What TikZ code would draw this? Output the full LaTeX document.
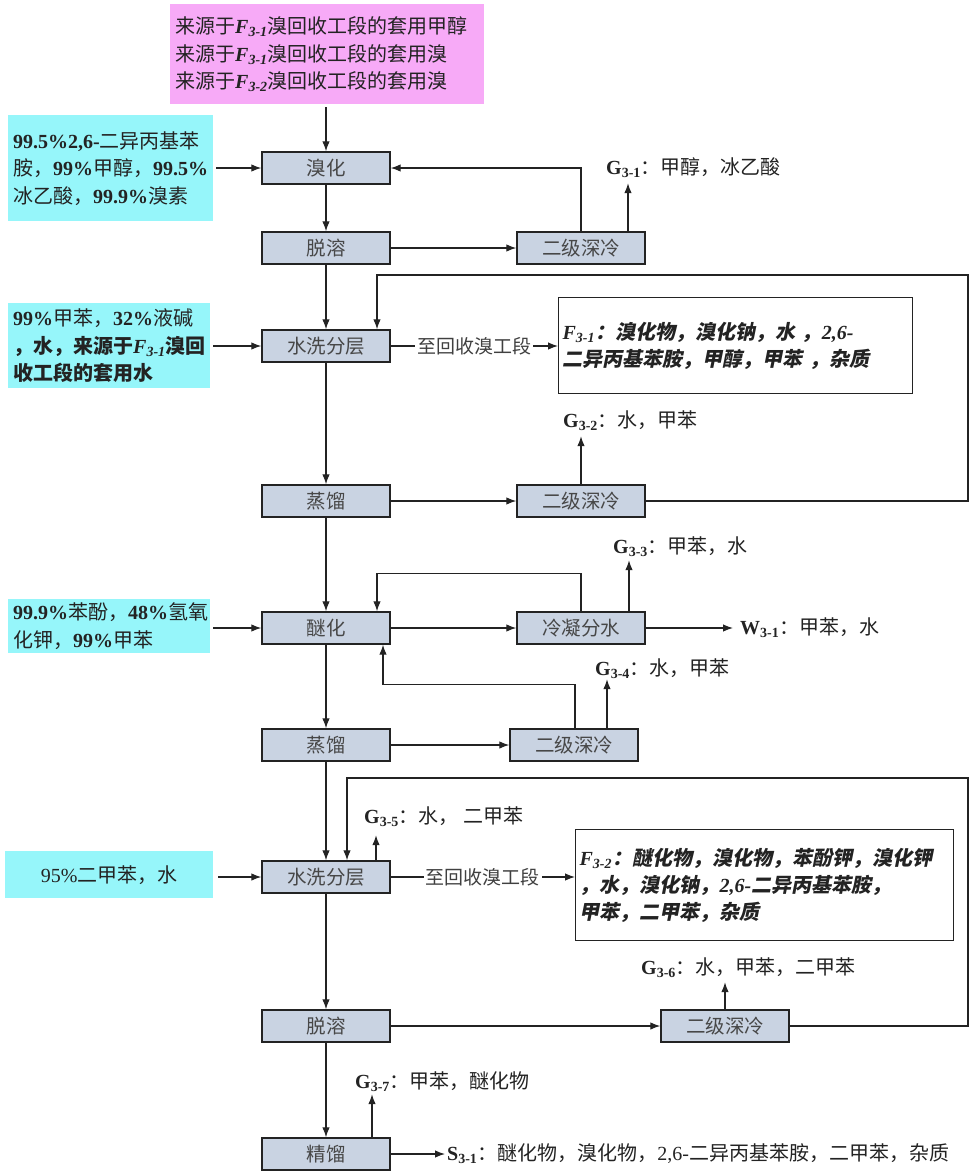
\documentclass[tikz,border=0pt]{standalone}
\usepackage{fontspec}
\setmainfont{Noto Sans CJK SC}
\newfontfamily\latinf{Liberation Serif}
\newfontfamily\cjkit[FakeSlant=0.2]{Noto Sans CJK SC}
\usetikzlibrary{arrows.meta, positioning, calc}
\definecolor{procfill}{RGB}{201,211,226}
\definecolor{feedcyan}{RGB}{150,246,250}
\definecolor{recycpink}{RGB}{247,170,247}
\definecolor{ink}{RGB}{35,35,35}
\newcommand\lat[1]{{\latinf\bfseries #1}}
\newcommand\stream[2]{{\latinf\bfseries #1\textsubscript{#2}}}
\newcommand\fstream[1]{{\latinf\bfseries\itshape F\textsubscript{#1}}}
\tikzset{
  proc/.style={draw=ink, line width=1.4pt, fill=procfill, minimum width=128pt, minimum height=32pt,
    inner sep=0pt, text=black!72, font=\fontsize{19.5}{22}\selectfont},
  feed/.style={fill=#1, anchor=north west, inner xsep=5pt, inner ysep=0pt, align=left, text=ink,
    font=\fontsize{20}{27.5}\selectfont},
  dump/.style={draw=ink, line width=1.2pt, fill=white, anchor=north west, inner xsep=4pt, inner ysep=0pt,
    align=left, text=ink, font=\fontsize{20}{27}\selectfont\cjkit\bfseries},
  lbl/.style={anchor=west, inner sep=0pt, text height=16pt, text depth=4pt, text=ink,
    font=\fontsize{20}{24}\selectfont},
  arr/.style={-{Latex[length=10pt,width=7.5pt]}, line width=1.2pt, draw=ink},
  via/.style={fill=white, inner xsep=2pt, text=black!75, font=\fontsize{19}{22}\selectfont},
}
\begin{document}
\begin{tikzpicture}[x=1pt, y=-1pt]
  \useasboundingbox (0,0) rectangle (971,1173);
  % main column
  \node[proc] (brom) at (326,168) {溴化};
  \node[proc] (desolvA) at (326,248) {脱溶};
  \node[proc] (washA) at (326,346) {水洗分层};
  \node[proc] (distA) at (326,501) {蒸馏};
  \node[proc] (ether) at (326,628) {醚化};
  \node[proc] (distB) at (326,745) {蒸馏};
  \node[proc] (washB) at (326,877) {水洗分层};
  \node[proc] (desolvB) at (326,1026) {脱溶};
  \node[proc] (rectif) at (326,1154) {精馏};
  % side units
  \node[proc] (chillA) at (581,248) {二级深冷};
  \node[proc] (chillB) at (581,501) {二级深冷};
  \node[proc] (cond) at (581,628) {冷凝分水};
  \node[proc] (chillC) at (574,745) {二级深冷};
  \node[proc] (chillD) at (725,1026) {二级深冷};
  % feeds
  \node[feed=recycpink, text width=304pt, minimum height=100pt] (recyc) at (170,4)
    {来源于\fstream{3-1}溴回收工段的套用甲醇\\来源于\fstream{3-1}溴回收工段的套用溴\\来源于\fstream{3-2}溴回收工段的套用溴};
  \node[feed=feedcyan, text width=195pt, minimum height=106pt] (feedA) at (8,115)
    {\lat{99.5\%2,6-}二异丙基苯\\胺，\lat{99\%}甲醇，\lat{99.5\%}\\冰乙酸，\lat{99.9\%}溴素};
  \node[feed=feedcyan, text width=192pt, minimum height=85pt] (feedB) at (8,303)
    {\lat{99\%}甲苯，\lat{32\%}液碱\\\bfseries，水，来源于\fstream{3-1}溴回\\\bfseries 收工段的套用水};
  \node[feed=feedcyan, text width=192pt, minimum height=54pt] (feedC) at (8,599)
    {\lat{99.9\%}苯酚，\lat{48\%}氢氧\\化钾，\lat{99\%}甲苯};
  \node[feed=feedcyan, text width=198pt, minimum height=47pt, align=center] (feedD) at (5,851)
    {{\latinf 95\%}二甲苯，水};
  % to bromine recovery
  \node[dump, text width=346pt, minimum height=96pt] (fA) at (558,297)
    {\fstream{3-1}：溴化物，溴化钠，水\ ，\lat{\itshape 2,6-}\\二异丙基苯胺，甲醇，甲苯\ ，杂质};
  \node[dump, text width=370pt, minimum height=111pt] (fB) at (575,829)
    {\fstream{3-2}：醚化物，溴化物，苯酚钾，溴化钾\\，水，溴化钠，\lat{\itshape 2,6-}二异丙基苯胺，\\甲苯，二甲苯，杂质};
  % emissions
  \node[lbl] (gA) at (606,168) {\stream{G}{3-1}：甲醇，冰乙酸};
  \node[lbl] (gB) at (563,421) {\stream{G}{3-2}：水，甲苯};
  \node[lbl] (gC) at (613,547) {\stream{G}{3-3}：甲苯，水};
  \node[lbl] (wA) at (740,628) {\stream{W}{3-1}：甲苯，水};
  \node[lbl] (gD) at (595,669) {\stream{G}{3-4}：水，甲苯};
  \node[lbl] (gE) at (364,817) {\stream{G}{3-5}：水，\ 二甲苯};
  \node[lbl] (gF) at (641,968) {\stream{G}{3-6}：水，甲苯，二甲苯};
  \node[lbl] (gG) at (355,1082) {\stream{G}{3-7}：甲苯，醚化物};
  \node[lbl] (sA) at (447,1154) {\stream{S}{3-1}：醚化物，溴化物，{\latinf 2,6-}二异丙基苯胺，二甲苯，杂质};
  \coordinate (loopA) at (968,275);
  \coordinate (loopB) at (968,778);

  % feeds in
  \draw[arr, shorten <=3pt] (recyc.south -| brom.north) -- (brom.north);
  \draw[arr, shorten <=3pt] (feedA.east |- brom.west) -- (brom.west);
  \draw[arr, shorten <=3pt] (feedB.east |- washA.west) -- (washA.west);
  \draw[arr, shorten <=3pt] (feedC.east |- ether.west) -- (ether.west);
  \draw[arr, shorten <=5pt] (feedD.east |- washB.west) -- (washB.west);
  % main flow
  \foreach \a/\b in {brom/desolvA, desolvA/washA, washA/distA, distA/ether,
      ether/distB, distB/washB, washB/desolvB, desolvB/rectif}
    \draw[arr] (\a) -- (\b);
  \draw[arr] (desolvA) -- (chillA);
  \draw[arr] (distA) -- (chillB);
  \draw[arr] (ether) -- (cond);
  \draw[arr] (distB) -- (chillC);
  \draw[arr] (desolvB) -- (chillD);
  % returns
  \draw[arr] (chillA.north) |- (brom.east);
  \draw[arr] (chillB.east) -| (loopA) -| ([xshift=51pt]washA.north);
  \draw[arr] (cond.north) -- ++(0,-38) -| ([xshift=51pt]ether.north);
  \draw[arr] ([xshift=1pt]chillC.north) -- ++(0,-44) -| ([xshift=57pt]ether.south);
  \draw[arr] (chillD.east) -| (loopB) -| ([xshift=21pt]washB.north);
  \draw[arr] (washA.east) -- node[via] {至回收溴工段} (washA.east -| fA.west);
  \draw[arr] (washB.east) -- node[via] {至回收溴工段} (washB.east -| fB.west);
  % vents
  \draw[arr, shorten >=5pt] ([xshift=47pt]chillA.north) -- ([xshift=47pt]chillA.north |- gA.south);
  \draw[arr, shorten >=5pt] (chillB.north) -- (chillB.north |- gB.south);
  \draw[arr, shorten >=3pt] ([xshift=48pt]cond.north) -- ([xshift=48pt]cond.north |- gC.south);
  \draw[arr, shorten >=7pt] (cond.east) -- (wA.west);
  \draw[arr] ([xshift=33pt]chillC.north) -- ([xshift=33pt]chillC.north |- gD.south);
  \draw[arr, shorten >=8pt] ([xshift=50pt]washB.north) -- ([xshift=50pt]washB.north |- gE.south);
  \draw[arr, shorten >=4pt] (chillD.north) -- (chillD.north |- gF.south);
  \draw[arr, shorten >=2pt] ([xshift=46pt]rectif.north) -- ([xshift=46pt]rectif.north |- gG.south);
  \draw[arr, shorten >=2pt] (rectif.east) -- (sA.west);
\end{tikzpicture}
\end{document}
